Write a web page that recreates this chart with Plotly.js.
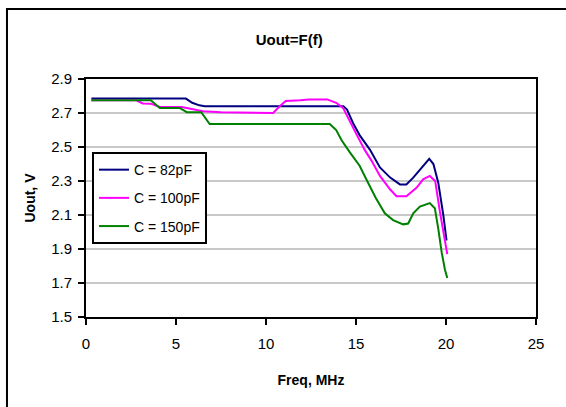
<!DOCTYPE html>
<html>
<head>
<meta charset="utf-8">
<script src="https://cdn.plot.ly/plotly-3.0.1.min.js"></script>
<style>
html,body{margin:0;padding:0;background:#fff;}
#chart{width:566px;height:407px;}
</style>
</head>
<body>
<div id="chart"></div>
<script>
// ---- data ----
const seriesNames = ["C = 82pF", "C = 100pF", "C = 150pF"];

const freq82 = [0.3, 5.55, 5.9, 6.3, 6.6, 10, 14.3, 14.5, 14.84, 15.2, 15.58, 15.77, 16.33, 16.9, 17.44, 17.8, 18.18, 18.64, 19.07, 19.3, 19.57, 19.85, 20.03];
const u82    = [2.785, 2.785, 2.76, 2.745, 2.74, 2.74, 2.74, 2.72, 2.64, 2.57, 2.51, 2.485, 2.38, 2.32, 2.28, 2.28, 2.32, 2.38, 2.43, 2.40, 2.29, 2.10, 1.95];

const freq100 = [0.3, 2.8, 3.15, 3.6, 4.1, 5.3, 5.6, 6.0, 6.5, 7.5, 10.4, 10.76, 11.1, 11.9, 12.4, 13.4, 13.9, 14.28, 14.56, 15.0, 15.5, 15.86, 16.33, 16.9, 17.25, 17.8, 18.36, 18.73, 19.1, 19.4, 19.66, 19.94, 20.07];
const u100    = [2.775, 2.775, 2.756, 2.755, 2.735, 2.735, 2.73, 2.72, 2.71, 2.705, 2.70, 2.74, 2.77, 2.775, 2.78, 2.78, 2.76, 2.73, 2.67, 2.58, 2.48, 2.42, 2.33, 2.25, 2.21, 2.21, 2.26, 2.31, 2.33, 2.30, 2.12, 1.96, 1.87];

const freq150 = [0.3, 3.6, 4.1, 5.2, 5.6, 6.4, 6.87, 10, 13.54, 13.9, 14.2, 14.65, 15.2, 15.67, 16.1, 16.6, 17.06, 17.62, 17.9, 18.18, 18.55, 19.1, 19.38, 19.57, 19.76, 19.94, 20.07];
const u150    = [2.775, 2.775, 2.73, 2.73, 2.705, 2.705, 2.635, 2.635, 2.635, 2.60, 2.54, 2.47, 2.39, 2.29, 2.20, 2.11, 2.07, 2.045, 2.05, 2.11, 2.15, 2.17, 2.14, 2.02, 1.88, 1.78, 1.73];

const xTicks = [0, 5, 10, 15, 20, 25];
const yTicks = [1.5, 1.7, 1.9, 2.1, 2.3, 2.5, 2.7, 2.9];
const darkGridLevels = [1.7, 1.9, 2.5, 2.7];

// ---- chart ----
const colors = ["#000080", "#FF00FF", "#008000"];
const FONT = "Liberation Sans, Arial, sans-serif";

const xs = [freq82, freq100, freq150];
const ys = [u82, u100, u150];
const traces = xs.map((x, i) => ({
  x: x, y: ys[i], name: seriesNames[i], type: "scatter", mode: "lines",
  line: {color: colors[i], width: 2}, legendgroup: "g" + i
}));

const shapes = darkGridLevels.map(v => ({
  type: "line", xref: "paper", x0: 0, x1: 1, yref: "y", y0: v, y1: v,
  line: {color: "#000", width: 2}, layer: "below"
}));
// outer chart-area frame
shapes.push({
  type: "rect", xref: "paper", yref: "paper",
  x0: -0.1756, x1: 1.2, y0: -0.4, y1: 1.294,
  line: {color: "#000", width: 2}, fillcolor: "rgba(0,0,0,0)", layer: "above"
});

const layout = {
  width: 566, height: 407,
  margin: {l: 86, r: 30, t: 79, b: 90},
  paper_bgcolor: "#fff", plot_bgcolor: "#fff",
  font: {family: FONT, color: "#000", size: 14},
  title: {text: "<b>Uout=F(f)</b>", font: {family: FONT, size: 15, color: "#000"},
          xref: "container", yref: "container", x: 0.511, y: 0.902, xanchor: "center", yanchor: "middle"},
  xaxis: {
    range: [0, 25], tickvals: xTicks, ticktext: xTicks.map(String),
    showgrid: false, zeroline: false,
    showline: true, linecolor: "#000", linewidth: 2, mirror: true,
    ticks: "outside", ticklen: 6, tickwidth: 2, tickcolor: "#000",
    ticklabelstandoff: 6,
    tickfont: {family: FONT, size: 15, color: "#000"},
    title: {text: "<b>Freq, MHz</b>", font: {family: FONT, size: 14, color: "#000"}, standoff: 24}
  },
  yaxis: {
    range: [1.5, 2.9], tickvals: yTicks, ticktext: yTicks.map(v => v.toFixed(1)),
    showgrid: true, gridcolor: "#c8c8c8", gridwidth: 2, zeroline: false,
    showline: true, linecolor: "#000", linewidth: 2, mirror: true,
    ticks: "outside", ticklen: 6, tickwidth: 2, tickcolor: "#000",
    ticklabelstandoff: 3,
    tickfont: {family: FONT, size: 15, color: "#000"},
    title: {text: "<b>Uout, V</b>", font: {family: FONT, size: 14, color: "#000"}, standoff: 12}
  },
  legend: {
    x: 0.0133, y: 0.693, xanchor: "left", yanchor: "top",
    bgcolor: "#fff", bordercolor: "#000", borderwidth: 2,
    font: {family: FONT, size: 14, color: "#000"},
    traceorder: "grouped", tracegroupgap: 7, itemwidth: 30
  },
  shapes: shapes,
  showlegend: true
};

Plotly.newPlot("chart", traces, layout, {displayModeBar: false, staticPlot: true});
</script>
</body>
</html>
